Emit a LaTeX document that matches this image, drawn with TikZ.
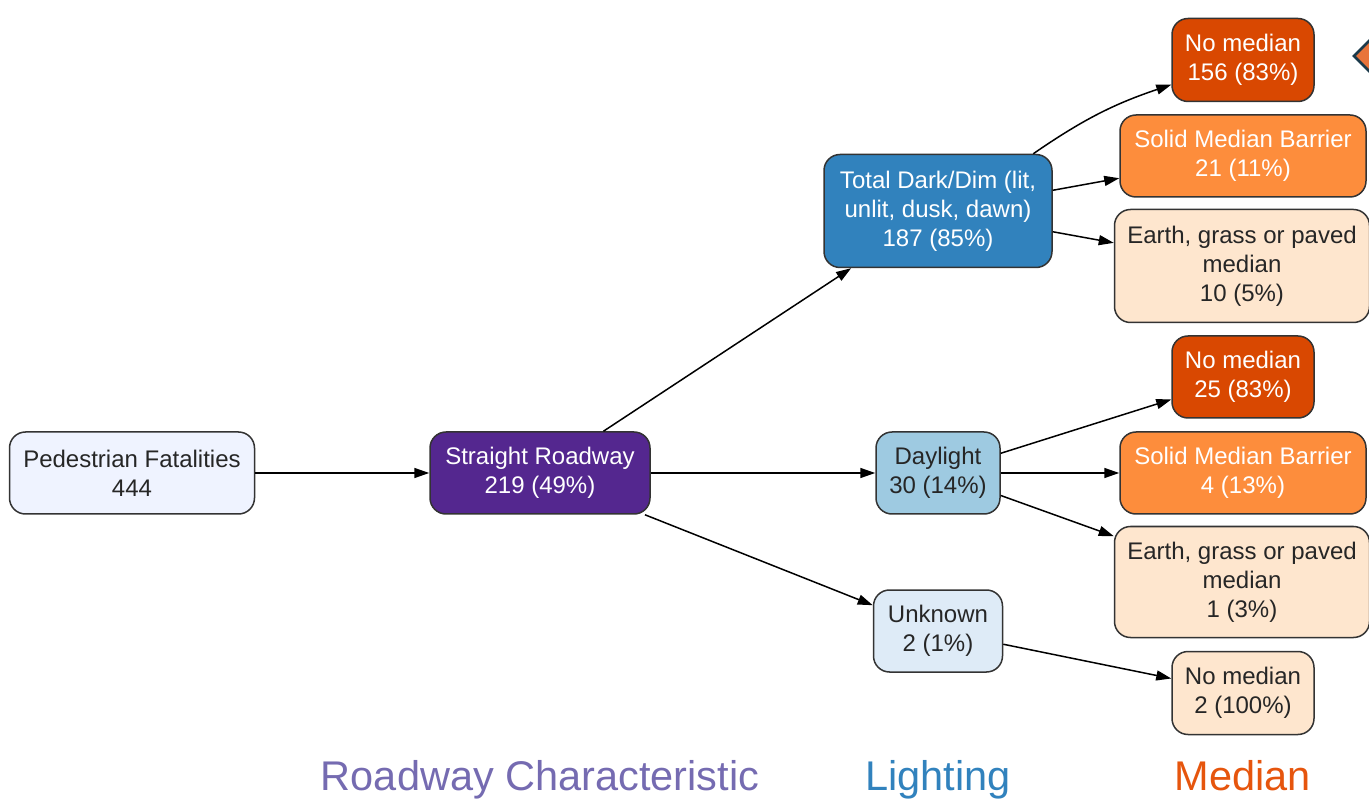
\documentclass[tikz,border=0pt]{standalone}
\usepackage{fontspec}
\setmainfont{Liberation Sans}
\usetikzlibrary{arrows.meta}
\definecolor{cPed}{HTML}{EFF3FF}
\definecolor{cRoad}{HTML}{54278F}
\definecolor{cDark}{HTML}{3182BD}
\definecolor{cDay}{HTML}{9ECAE1}
\definecolor{cUnk}{HTML}{DEEBF7}
\definecolor{cNoMed}{HTML}{D94801}
\definecolor{cSolid}{HTML}{FD8D3C}
\definecolor{cEarth}{HTML}{FEE6CE}
\definecolor{cBorder}{HTML}{333333}
\definecolor{tRoad}{HTML}{756BB1}
\definecolor{tLight}{HTML}{3182BD}
\definecolor{tMed}{HTML}{E6550D}
\definecolor{cDiamond}{HTML}{E8743B}
\definecolor{cDiamondLine}{HTML}{1B3A4B}
\tikzset{
  box/.style={draw=cBorder, line width=1.5pt, rounded corners=16pt, align=center,
    font=\fontsize{24}{29}\selectfont, inner sep=4pt},
  dark/.style={box, text=white},
  light/.style={box, text=black!85},
  conn/.style={line width=1.5pt, -{Triangle[length=15pt,width=10pt]}},
  axis/.style={font=\fontsize{41.5}{48}\selectfont, anchor=base}
}
\begin{document}
\begin{tikzpicture}[x=1pt,y=-1pt]
\useasboundingbox (0,0) rectangle (1369,799);
% nodes
\node[light, fill=cPed, minimum width=245pt, minimum height=82pt] (ped) at (132,473) {Pedestrian Fatalities\\444};
\node[dark, fill=cRoad, minimum width=220pt, minimum height=82pt] (road) at (540,473) {Straight Roadway\\219 (49\%)};
\node[dark, fill=cDark, minimum width=228pt, minimum height=113pt] (dim) at (938,211) {Total Dark/Dim (lit,\\unlit, dusk, dawn)\\187 (85\%)};
\node[light, fill=cDay, minimum width=124pt, minimum height=82pt] (day) at (938,473) {Daylight\\30 (14\%)};
\node[light, fill=cUnk, minimum width=129pt, minimum height=82pt] (unk) at (938,631) {Unknown\\2 (1\%)};
\node[dark, fill=cNoMed, minimum width=142pt, minimum height=83pt] (nm1) at (1243,60) {No median\\156 (83\%)};
\node[dark, fill=cSolid, minimum width=246pt, minimum height=82pt] (sb1) at (1243,156) {Solid Median Barrier\\21 (11\%)};
\node[light, fill=cEarth, minimum width=255pt, minimum height=113pt] (ea1) at (1242,266) {Earth, grass or paved\\median\\10 (5\%)};
\node[dark, fill=cNoMed, minimum width=142pt, minimum height=82pt] (nm2) at (1243,377) {No median\\25 (83\%)};
\node[dark, fill=cSolid, minimum width=246pt, minimum height=82pt] (sb2) at (1243,473) {Solid Median Barrier\\4 (13\%)};
\node[light, fill=cEarth, minimum width=255pt, minimum height=111pt] (ea2) at (1242,582) {Earth, grass or paved\\median\\1 (3\%)};
\node[light, fill=cEarth, minimum width=142pt, minimum height=83pt] (nm3) at (1243,693) {No median\\2 (100\%)};
% connectors
\draw[conn] (ped) -- (road);
\draw[conn] (road) -- (dim);
\draw[conn] (road) -- (day);
\draw[conn] (road) -- (unk);
\draw[conn] (dim.31) to[bend left=8] (nm1.199);
\draw[conn] (dim) -- (sb1);
\draw[conn] (dim) -- (ea1);
\draw[conn] (day) -- (nm2);
\draw[conn] (day) -- (sb2);
\draw[conn] (day) -- (ea2);
\draw[conn] (unk) -- (nm3);
% axis labels
\node[axis, text=tRoad] (lRoad) at (540,790) {Roadway Characteristic};
\node[axis, text=tLight] (lLight) at (938,790) {Lighting};
\node[axis, text=tMed] (lMed) at (1243,790) {Median};
% clipped diamond at top right
\begin{scope}
\clip (0,0) rectangle (1369,799);
\draw[fill=cDiamond, draw=cDiamondLine, line width=2.5pt] (1354,56) -- (1370,40) -- (1386,56) -- (1370,72) -- cycle;
\end{scope}
\end{tikzpicture}
\end{document}
